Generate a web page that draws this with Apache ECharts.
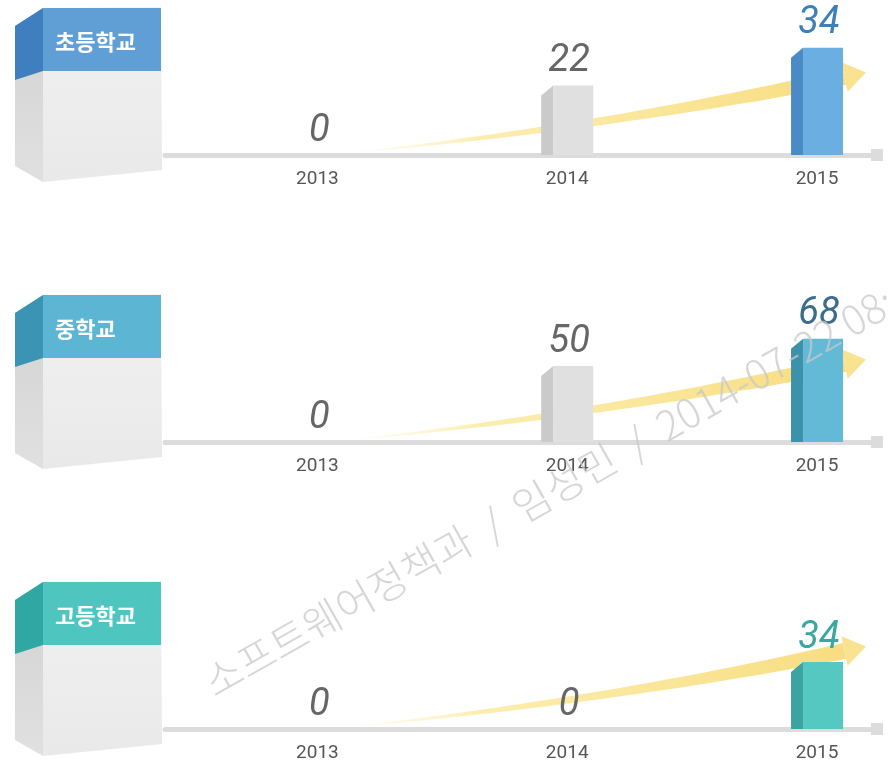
<!DOCTYPE html>
<html>
<head>
<meta charset="utf-8">
<script src="https://cdn.jsdelivr.net/npm/echarts@6/dist/echarts.min.js"></script>
<style>
html, body { margin: 0; padding: 0; background: #fff; }
#chart { width: 889px; height: 765px; }
</style>
</head>
<body>
<div id="chart"></div>
<script>
// 학교급별 현황 (2013~2015)
var years = [2013, 2014, 2015];
var schoolNames = ['초등학교', '중학교', '고등학교'];
var elementary = [0, 22, 34];
var middle = [0, 50, 68];
var high = [0, 0, 34];
var panelValues = [elementary, middle, high];

// per-panel look
var yMax = [38, 79, 61];
var bandFront = ['#5f9fd6', '#5bb5d3', '#4ec5bf'];
var bandSide = ['#3f7fbf', '#3b94b3', '#2fa7a2'];
var barFront = ['#6aaee2', '#62bad6', '#55c8c2'];
var barSide = ['#4a8bc6', '#3c91ab', '#3ba49f'];
var labelColor = ['#3d7fba', '#3a6c8e', '#3ba7a1'];

var baseTop = [35, 322, 609];
var gridH = 120;
var panelStep = 287;

var chart = echarts.init(document.getElementById('chart'));

function barRenderer(i) {
    return function (params, api) {
        var x = api.value(0);
        var v = api.value(1);
        var base = api.coord([x, 0]);
        var top = api.coord([x, v]);
        var w = 52, sw = 12, slope = 10;
        var x0 = base[0] - w / 2;
        var last = params.dataIndex === years.length - 1;
        var children = [];
        if (v > 0) {
            children.push({
                type: 'polygon',
                shape: { points: [[x0, top[1] + slope], [x0 + sw, top[1]], [x0 + sw, base[1]], [x0, base[1]]] },
                style: { fill: last ? barSide[i] : '#cacaca' }
            });
            children.push({
                type: 'rect',
                shape: { x: x0 + sw, y: top[1], width: w - sw, height: base[1] - top[1] },
                style: { fill: last ? barFront[i] : '#e0e0e0' }
            });
        }
        children.push({
            type: 'text',
            z2: 10,
            style: {
                text: String(v),
                x: base[0] + 2,
                y: top[1] - 5,
                align: 'center', verticalAlign: 'bottom',
                textAlign: 'center', textVerticalAlign: 'bottom',
                font: 'italic 38px Roboto',
                fill: last ? labelColor[i] : '#666666'
            }
        });
        return { type: 'group', children: children };
    };
}

// 상승 화살표 (장식)
function arrowRenderer(params, api) {
    var p13 = api.coord([years[0], 0]);
    var p15 = api.coord([years[years.length - 1], 0]);
    var u = (p15[0] - p13[0]) / 2;
    var by = p13[1];
    var S = [p13[0] + 0.17 * u, by - 3];
    var C = [p13[0] + 1.2 * u, by - 30];
    var E = [p15[0] + 0.11 * u, by - 78];
    var upper = [], lower = [];
    var n = 40;
    for (var k = 0; k <= n; k++) {
        var t = k / n;
        var px = (1 - t) * (1 - t) * S[0] + 2 * (1 - t) * t * C[0] + t * t * E[0];
        var py = (1 - t) * (1 - t) * S[1] + 2 * (1 - t) * t * C[1] + t * t * E[1];
        var dx = 2 * (1 - t) * (C[0] - S[0]) + 2 * t * (E[0] - C[0]);
        var dy = 2 * (1 - t) * (C[1] - S[1]) + 2 * t * (E[1] - C[1]);
        var len = Math.sqrt(dx * dx + dy * dy);
        var nx = -dy / len, ny = dx / len;
        var hw = 0.6 + 7.4 * Math.pow(t, 1.1);
        upper.push([px + nx * hw, py + ny * hw]);
        lower.unshift([px - nx * hw, py - ny * hw]);
    }
    var ddx = E[0] - C[0], ddy = E[1] - C[1];
    var dl = Math.sqrt(ddx * ddx + ddy * ddy);
    ddx /= dl; ddy /= dl;
    var nnx = -ddy, nny = ddx;
    var head = [
        [E[0] + nnx * 15, E[1] + nny * 15],
        [E[0] + ddx * 22, E[1] + ddy * 22],
        [E[0] - nnx * 15, E[1] - nny * 15]
    ];
    return {
        type: 'group',
        children: [{
            type: 'polygon',
            shape: { points: upper.concat(lower) },
            style: {
                fill: new echarts.graphic.LinearGradient(0, 0, 1, 0, [
                    { offset: 0, color: 'rgba(252,236,170,0.1)' },
                    { offset: 0.25, color: 'rgba(250,230,140,0.7)' },
                    { offset: 1, color: '#f8dd80' }
                ])
            }
        }, {
            type: 'polygon',
            shape: { points: head },
            style: { fill: '#f9e290' }
        }]
    };
}

var grids = [], xAxes = [], yAxes = [], series = [], graphics = [];

for (var i = 0; i < 3; i++) {
    grids.push({ left: 165, right: 12, top: baseTop[i], height: gridH });
    xAxes.push({
        type: 'value', gridIndex: i, min: 2012.39, max: 2015.24,
        splitLine: { show: false },
        axisTick: { show: false },
        axisLine: {
            show: true,
            symbol: ['none', 'rect'],
            symbolSize: [12, 12],
            lineStyle: { color: '#dcdcdc', width: 5 }
        },
        axisLabel: {
            customValues: years,
            formatter: function (v) { return String(v); },
            color: '#555555', fontSize: 19, fontFamily: 'Roboto', margin: 15
        }
    });
    yAxes.push({ type: 'value', gridIndex: i, min: 0, max: yMax[i], show: false });

    series.push({
        type: 'custom', xAxisIndex: i, yAxisIndex: i, z: 1,
        renderItem: arrowRenderer,
        data: [[years[0], 0]],
        silent: true
    });
    series.push({
        type: 'custom', xAxisIndex: i, yAxisIndex: i, z: 3,
        renderItem: barRenderer(i),
        data: years.map(function (y, k) { return [y, panelValues[i][k]]; })
    });

    // 왼쪽 상자 라벨
    var dy = i * panelStep;
    graphics.push({
        type: 'group', x: 0, y: dy, z: 5,
        children: [
            { type: 'polygon', shape: { points: [[15, 26], [43, 8], [43, 182], [15, 166]] },
              style: { fill: new echarts.graphic.LinearGradient(0, 0, 0, 1, [{ offset: 0, color: '#d2d2d2' }, { offset: 1, color: '#e0e0e0' }]) } },
            { type: 'polygon', shape: { points: [[43, 8], [161, 7], [162, 170], [43, 182]] },
              style: { fill: new echarts.graphic.LinearGradient(0, 0, 0, 1, [{ offset: 0, color: '#f2f2f2' }, { offset: 1, color: '#e9e9e9' }]) } },
            { type: 'polygon', shape: { points: [[15, 26], [43, 8], [43, 71], [15, 80]] },
              style: { fill: bandSide[i] } },
            { type: 'rect', shape: { x: 43, y: 8, width: 118, height: 63 },
              style: { fill: bandFront[i] } },
            { type: 'text', x: 55, y: 42,
              style: { text: schoolNames[i], x: 0, y: 0, align: 'left', verticalAlign: 'middle',
                       textAlign: 'left', textVerticalAlign: 'middle',
                       font: 'bold 22px "Noto Sans CJK KR"', fill: '#ffffff' } }
        ]
    });
}

// 워터마크
graphics.push({
    type: 'text', x: 207, y: 685, rotation: 29.5 * Math.PI / 180, z: 100, silent: true,
    style: {
        text: '소프트웨어정책과  /  임성민  /  2014-07-22 08:',
        x: 0, y: 0, align: 'left', verticalAlign: 'middle',
        textAlign: 'left', textVerticalAlign: 'middle',
        font: '300 41px "Noto Sans CJK KR"', fill: 'rgba(200,200,200,0.75)'
    }
});

chart.setOption({
    animation: false,
    grid: grids,
    xAxis: xAxes,
    yAxis: yAxes,
    series: series,
    graphic: graphics
});
</script>
</body>
</html>
